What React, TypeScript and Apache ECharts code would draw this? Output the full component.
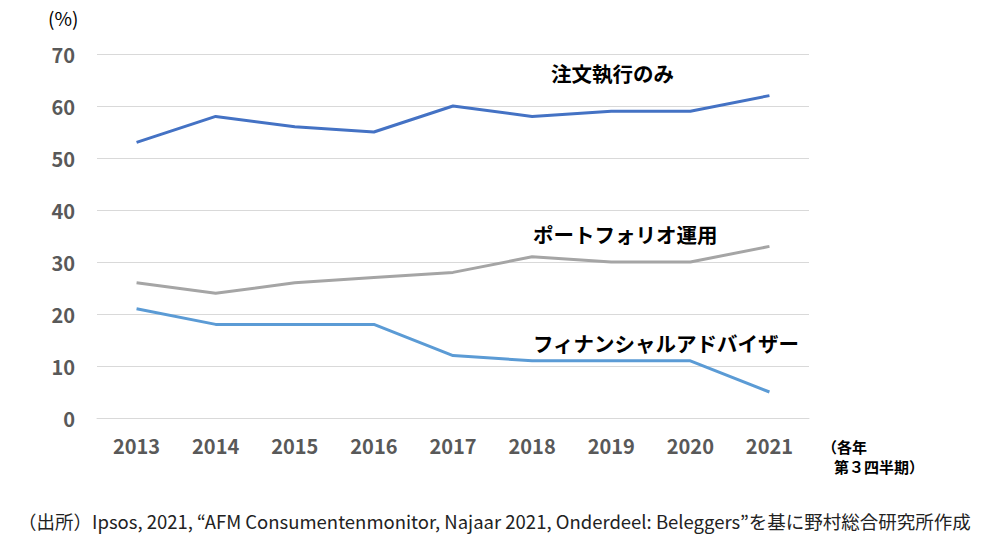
import React, { useEffect, useRef } from "react";
import * as echarts from "echarts";

const years = ["2013", "2014", "2015", "2016", "2017", "2018", "2019", "2020", "2021"];
const orderOnly = [53, 58, 56, 55, 60, 58, 59, 59, 62];
const portfolio = [26, 24, 26, 27, 28, 31, 30, 30, 33];
const advisor = [21, 18, 18, 18, 12, 11, 11, 11, 5];
const seriesNames = ["注文執行のみ", "ポートフォリオ運用", "フィナンシャルアドバイザー"];
const yTicks = { min: 0, max: 70, interval: 10 };

const FONT = "'Noto Sans CJK JP', 'Noto Sans', sans-serif";

export default function App() {
  const ref = useRef<HTMLDivElement>(null);
  useEffect(() => {
    document.body.style.margin = "0";
    const chart = echarts.init(ref.current!, undefined, { renderer: "svg" });
    const labelStyle = (text: string) => ({
      text,
      fill: "#000",
      font: `bold 20.5px ${FONT}`,
      textVerticalAlign: "middle",
    });
    chart.setOption({
      animation: false,
      backgroundColor: "#fff",
      grid: { left: 97, right: 180, top: 54, bottom: 127 },
      xAxis: {
        type: "category",
        data: years,
        boundaryGap: true,
        axisLine: { lineStyle: { color: "#d9d9d9", width: 1 } },
        axisTick: { show: false },
        axisLabel: {
          color: "#595959",
          fontFamily: FONT,
          fontWeight: "bold",
          fontSize: 20,
          margin: 17,
        },
      },
      yAxis: {
        type: "value",
        min: yTicks.min,
        max: yTicks.max,
        interval: yTicks.interval,
        axisLine: { show: false },
        axisTick: { show: false },
        splitLine: { lineStyle: { color: "#d9d9d9", width: 1 } },
        axisLabel: {
          color: "#595959",
          fontFamily: FONT,
          fontWeight: "bold",
          fontSize: 20,
          margin: 22,
        },
      },
      series: [
        {
          name: seriesNames[0],
          type: "line",
          data: orderOnly,
          symbol: "none",
          lineStyle: { color: "#4472C4", width: 3 },
        },
        {
          name: seriesNames[1],
          type: "line",
          data: portfolio,
          symbol: "none",
          lineStyle: { color: "#A5A5A5", width: 3 },
        },
        {
          name: seriesNames[2],
          type: "line",
          data: advisor,
          symbol: "none",
          lineStyle: { color: "#5B9BD5", width: 3 },
        },
      ],
      graphic: [
        {
          type: "text",
          x: 48,
          y: 17,
          style: { text: "(%)", fill: "#000", font: `19px ${FONT}`, textVerticalAlign: "middle" },
        },
        { type: "text", x: 551, y: 73, style: labelStyle(seriesNames[0]) },
        { type: "text", x: 533, y: 234, style: labelStyle(seriesNames[1]) },
        { type: "text", x: 533, y: 343, style: labelStyle(seriesNames[2]) },
        {
          type: "text",
          x: 822,
          y: 446,
          style: { text: "（各年", fill: "#000", font: `bold 15px ${FONT}`, textVerticalAlign: "middle" },
        },
        {
          type: "text",
          x: 834,
          y: 466,
          style: { text: "第３四半期）", fill: "#000", font: `bold 15px ${FONT}`, textVerticalAlign: "middle" },
        },
        {
          type: "text",
          x: 18,
          y: 521,
          style: {
            text: "（出所）Ipsos, 2021, “AFM Consumentenmonitor, Najaar 2021, Onderdeel: Beleggers”を基に野村総合研究所作成",
            fill: "#222",
            font: `18.5px ${FONT}`,
            textVerticalAlign: "middle",
          },
        },
      ],
    });
    return () => chart.dispose();
  }, []);
  return <div ref={ref} style={{ width: 989, height: 545 }} />;
}
